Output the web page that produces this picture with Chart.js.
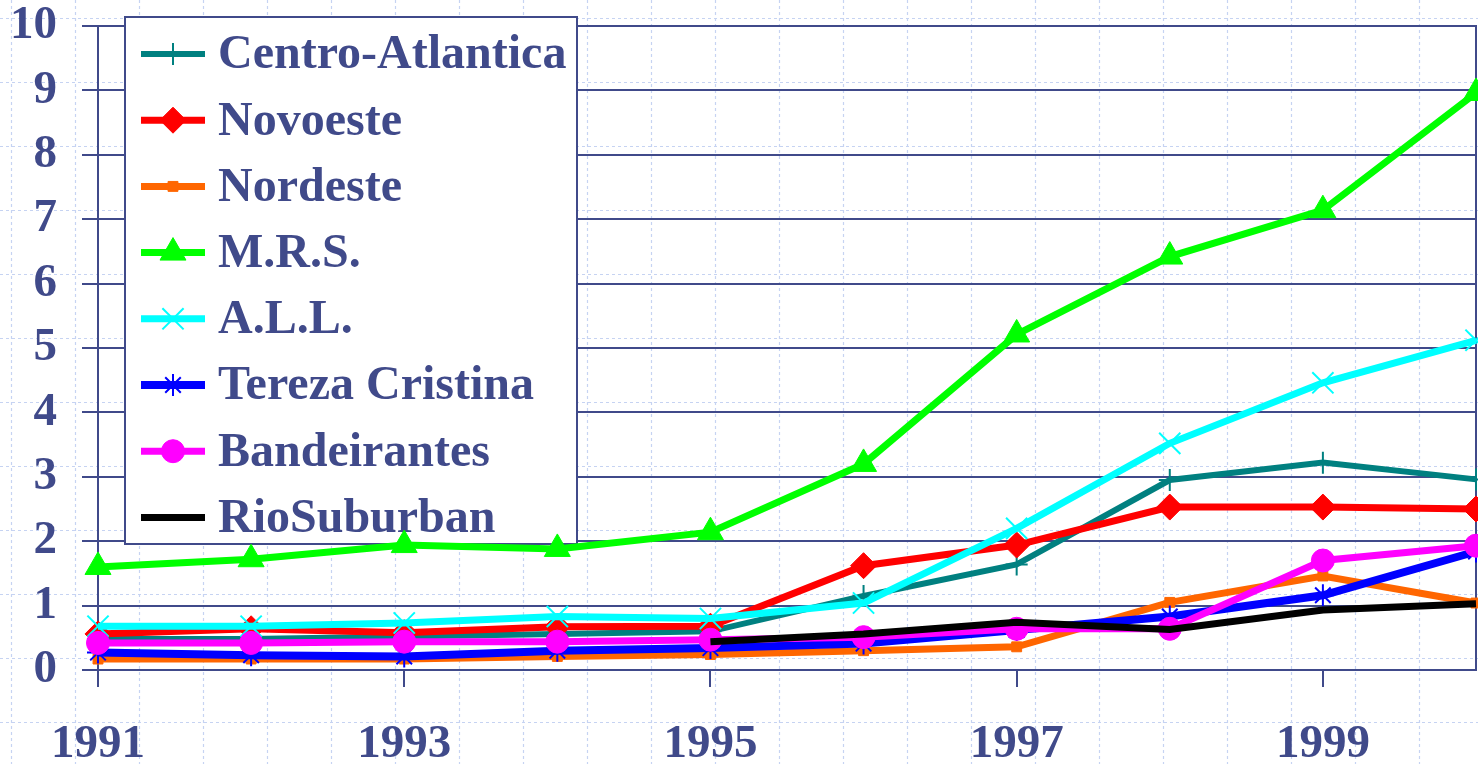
<!DOCTYPE html>
<html>
<head>
<meta charset="utf-8">
<script src="https://cdn.jsdelivr.net/npm/chart.js@4/dist/chart.umd.min.js"></script>
<style>
  html, body { margin: 0; padding: 0; background: #fff; }
  #wrap { width: 1478px; height: 764px; }
</style>
</head>
<body>
<div id="wrap"><canvas id="chart" width="1478" height="764"></canvas></div>
<script>
/* ===== DATA ===== */
const years = ["1991", "1992", "1993", "1994", "1995", "1996", "1997", "1998", "1999", "2000"];
const centroAtlantica = [0.48, 0.48, 0.52, 0.56, 0.60, 1.15, 1.64, 2.95, 3.22, 2.96];
const novoeste = [0.56, 0.64, 0.58, 0.67, 0.68, 1.62, 1.94, 2.53, 2.53, 2.50];
const nordeste = [0.17, 0.17, 0.17, 0.21, 0.24, 0.30, 0.36, 1.05, 1.46, 1.04];
const mrs = [1.60, 1.72, 1.94, 1.88, 2.14, 3.20, 5.21, 6.42, 7.14, 8.96];
const allData = [0.68, 0.68, 0.73, 0.83, 0.80, 1.04, 2.20, 3.52, 4.46, 5.12];
const tereza = [0.27, 0.23, 0.21, 0.30, 0.34, 0.41, 0.62, 0.83, 1.16, 1.84];
const bandeirantes = [0.42, 0.42, 0.44, 0.44, 0.47, 0.51, 0.64, 0.64, 1.70, 1.93];
const rioSuburban = [null, null, null, null, 0.44, 0.56, 0.74, 0.63, 0.93, 1.03];
const yTicks = [0, 1, 2, 3, 4, 5, 6, 7, 8, 9, 10];

const NAVY = "#404a8a";
const FONT = "'Liberation Serif', 'Times New Roman', serif";

function series(label, data, color, style, radius, lineW, markW) {
  return {
    label, data,
    borderColor: color,
    backgroundColor: color,
    borderWidth: lineW,
    pointStyle: style,
    pointRadius: radius,
    pointHoverRadius: radius,
    pointBorderWidth: markW,
    pointBorderColor: color,
    pointBackgroundColor: color,
    tension: 0,
    clip: false,
    spanGaps: false
  };
}

const datasets = [
  series("Centro-Atlantica", centroAtlantica, "#008080", "cross", 11, 6, 2),
  series("Novoeste", novoeste, "#ff0000", "rectRot", 13, 7, 1),
  series("Nordeste", nordeste, "#ff6600", "rect", 7, 7, 1),
  series("M.R.S.", mrs, "#00ff00", "triangle", 15, 7, 1),
  series("A.L.L.", allData, "#00ffff", "crossRot", 15, 7, 2),
  series("Tereza Cristina", tereza, "#0000ff", "star", 11, 8, 2),
  series("Bandeirantes", bandeirantes, "#ff00ff", "circle", 11.5, 7, 1),
  series("RioSuburban", rioSuburban, "#000000", false, 0, 7, 0)
];
// last series on top, like the original
datasets.forEach((d, i) => d.order = datasets.length - i);

/* ===== PLUGINS ===== */
const paperGrid = {
  id: "paperGrid",
  beforeDraw(chart) {
    const { ctx, width, height } = chart;
    ctx.save();
    ctx.fillStyle = "#fff";
    ctx.fillRect(0, 0, width, height);
    ctx.strokeStyle = "#c6d3f2";
    ctx.lineWidth = 1.2;
    ctx.setLineDash([3, 3]);
    ctx.beginPath();
    for (let x = 11; x < width; x += 64) { ctx.moveTo(x + 0.5, 0); ctx.lineTo(x + 0.5, height); }
    for (let y = 18; y < height; y += 64) { ctx.moveTo(0, y + 0.5); ctx.lineTo(width, y + 0.5); }
    ctx.stroke();
    ctx.restore();
  }
};

const plotBox = {
  id: "plotBox",
  beforeDatasetsDraw(chart) {
    const { ctx, chartArea: a } = chart;
    ctx.save();
    ctx.strokeStyle = NAVY;
    ctx.lineWidth = 2;
    ctx.strokeRect(a.left, a.top, a.right - a.left, a.bottom - a.top);

    // legend box
    const lx = 125, ly = 17, lw = 452, lh = 527;
    ctx.fillStyle = "#fff";
    ctx.fillRect(lx, ly, lw, lh);
    ctx.strokeRect(lx, ly, lw, lh);

    const draw = Chart.helpers && Chart.helpers.drawPoint;
    chart.data.datasets.forEach((ds, i) => {
      const y = 54 + i * 66.2;
      ctx.strokeStyle = ds.borderColor;
      ctx.lineWidth = ds.borderWidth;
      ctx.setLineDash([]);
      ctx.beginPath();
      ctx.moveTo(141, y);
      ctx.lineTo(205, y);
      ctx.stroke();
      if (draw && ds.pointStyle) {
        ctx.fillStyle = ds.pointBackgroundColor;
        ctx.strokeStyle = ds.pointBorderColor;
        ctx.lineWidth = ds.pointBorderWidth;
        draw(ctx, { pointStyle: ds.pointStyle, radius: ds.pointRadius, rotation: 0, borderWidth: ds.pointBorderWidth }, 173, y);
      }
      ctx.fillStyle = NAVY;
      ctx.font = "bold 48px " + FONT;
      ctx.textBaseline = "middle";
      ctx.textAlign = "left";
      ctx.fillText(ds.label, 218, y + 2);
    });
    ctx.restore();
  }
};

/* ===== CHART ===== */
new Chart(document.getElementById("chart"), {
  type: "line",
  data: { labels: years, datasets },
  plugins: [paperGrid, plotBox],
  options: {
    responsive: false,
    animation: false,
    layout: { autoPadding: false, padding: { top: 26, right: 2, left: 0, bottom: 0 } },
    plugins: { legend: { display: false }, tooltip: { enabled: false } },
    scales: {
      x: {
        offset: false,
        grid: {
          drawOnChartArea: false,
          drawTicks: true,
          tickLength: 17,
          lineWidth: 2,
          color: c => (c.index % 2 === 0 ? NAVY : "rgba(0,0,0,0)")
        },
        border: { display: true, color: NAVY, width: 2 },
        ticks: {
          autoSkip: false,
          maxRotation: 0,
          padding: 30,
          color: NAVY,
          font: { family: FONT, size: 47, weight: "bold", lineHeight: 1.2 },
          callback: (v, i) => (i % 2 === 0 ? years[i] : "")
        },
        afterFit: s => { s.height = 94; s.paddingLeft = 0; s.paddingRight = 0; }
      },
      y: {
        min: 0,
        max: 10,
        afterBuildTicks: s => { s.ticks = yTicks.map(v => ({ value: v })); },
        grid: { color: NAVY, lineWidth: 2, tickLength: 16 },
        border: { display: true, color: NAVY, width: 2 },
        ticks: {
          padding: 25,
          color: NAVY,
          font: { family: FONT, size: 47, weight: "bold", lineHeight: 1.0 }
        },
        afterFit: s => { s.width = 98; s.paddingTop = 0; s.paddingBottom = 0; }
      }
    }
  }
});
</script>
</body>
</html>
